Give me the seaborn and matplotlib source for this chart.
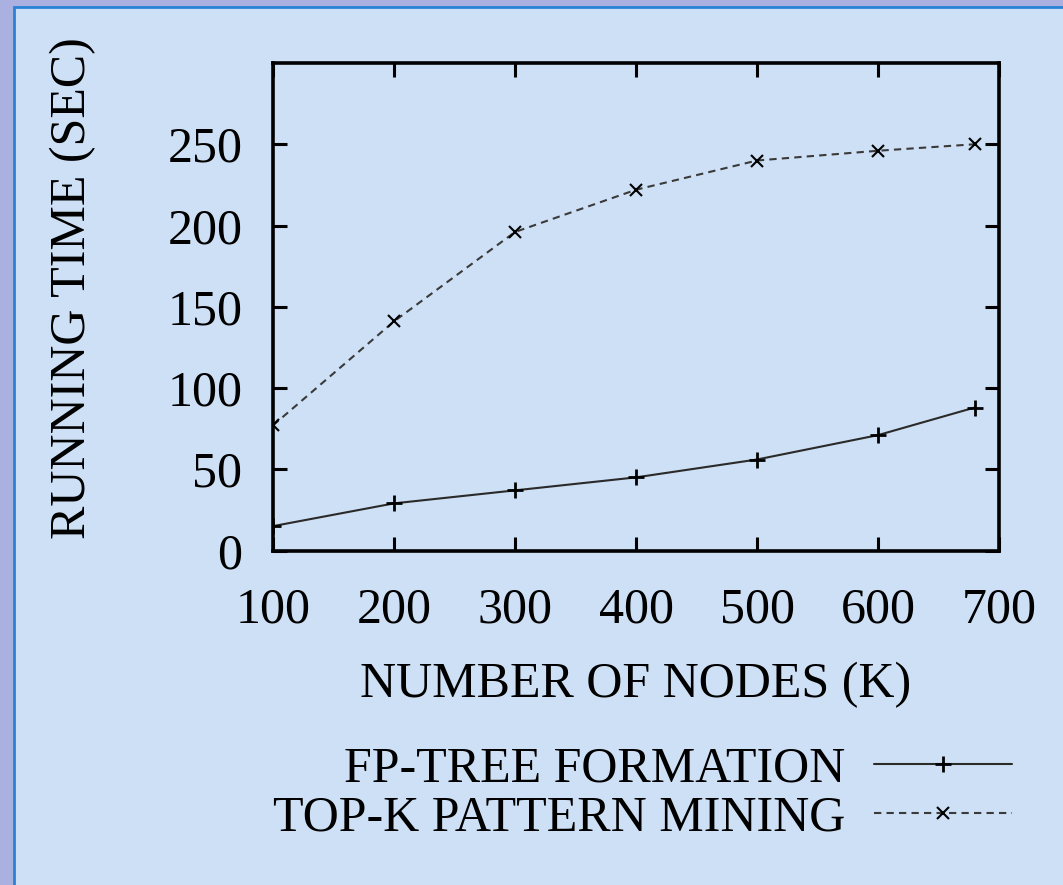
import numpy as np
import pandas as pd
import matplotlib
matplotlib.use('Agg')
import matplotlib.pyplot as plt
from matplotlib.patches import Rectangle
import seaborn as sns

# data
nodes = [100, 200, 300, 400, 500, 600, 680]
fp_tree = [15, 29, 37, 45, 56, 71, 88]
top_k = [77, 141, 196, 222, 240, 246, 250]
series_names = ['FP-TREE FORMATION', 'TOP-K PATTERN MINING']
x_ticks = [100, 200, 300, 400, 500, 600, 700]
y_ticks = [0, 50, 100, 150, 200, 250]

df = pd.DataFrame({
    'nodes': nodes * 2,
    'time': fp_tree + top_k,
    'series': [series_names[0]] * len(nodes) + [series_names[1]] * len(nodes),
})

sns.set_theme(style='ticks')
plt.rcParams['font.family'] = ['Liberation Serif', 'DejaVu Serif']
plt.rcParams['text.color'] = 'black'
plt.rcParams['axes.labelcolor'] = 'black'
plt.rcParams['xtick.color'] = 'black'
plt.rcParams['ytick.color'] = 'black'

fig = plt.figure(figsize=(10.63, 8.85), dpi=100)
fig.patch.set_facecolor('#aab0e0')
# light blue panel with a blue border (top and left visible)
panel = Rectangle((14 / 1063, -0.05), 1.2, 1.05 - 7 / 885,
                  transform=fig.transFigure, facecolor='#cee0f5',
                  edgecolor='#2a82d6', linewidth=2, zorder=-5)
fig.patches.append(panel)

ax = fig.add_axes([273 / 1063, 1 - 550.5 / 885, (999 - 273) / 1063, (550.5 - 63) / 885])
ax.set_zorder(2)
ax.set_facecolor('#cee0f5')

sns.lineplot(data=df, x='nodes', y='time', style='series', hue='series',
             palette=['#2a2a2a', '#3a3a3a'], dashes=[(None, None), (3.5, 2.5)],
             markers=['+', 'x'], markersize=12, linewidth=1.5, ax=ax)

def style_marks(lines):
    for line, mk in zip(lines, ['+', 'x']):
        line.set_markeredgecolor('black')
        line.set_markerfacecolor('black')
        line.set_markeredgewidth(2.0 if mk == '+' else 1.5)
        line.set_markersize(12 if mk == '+' else 9)

style_marks(ax.lines)

ax.set_xlim(100, 700)
ax.set_ylim(0, 300)
ax.set_xticks(x_ticks)
ax.set_yticks(y_ticks)
ax.tick_params(direction='in', length=10, width=2.2, labelsize=36,
               top=True, right=True, pad=22)
ax.tick_params(axis='x', pad=26)
for s in ax.spines.values():
    s.set_linewidth(2.6)
    s.set_color('black')

ax.set_xlabel('NUMBER OF NODES (K)', fontsize=36)
ax.set_ylabel('RUNNING TIME (SEC)', fontsize=36)
ax.xaxis.set_label_coords(0.5, -0.228)
ax.yaxis.set_label_coords(-0.243, 0.538)

handles, labels = ax.get_legend_handles_labels()
if ax.get_legend():
    ax.get_legend().remove()
leg = fig.legend(handles, labels, loc='center right',
                 bbox_to_anchor=(1012 / 1063, 1 - 794 / 885), frameon=False,
                 markerfirst=False, fontsize=36, handlelength=2.76,
                 handletextpad=0.58, labelspacing=0.05, borderpad=0,
                 borderaxespad=0)
style_marks(leg.get_lines())
leg.set_zorder(3)

fig.savefig('out.png', dpi=100, facecolor=fig.get_facecolor())
